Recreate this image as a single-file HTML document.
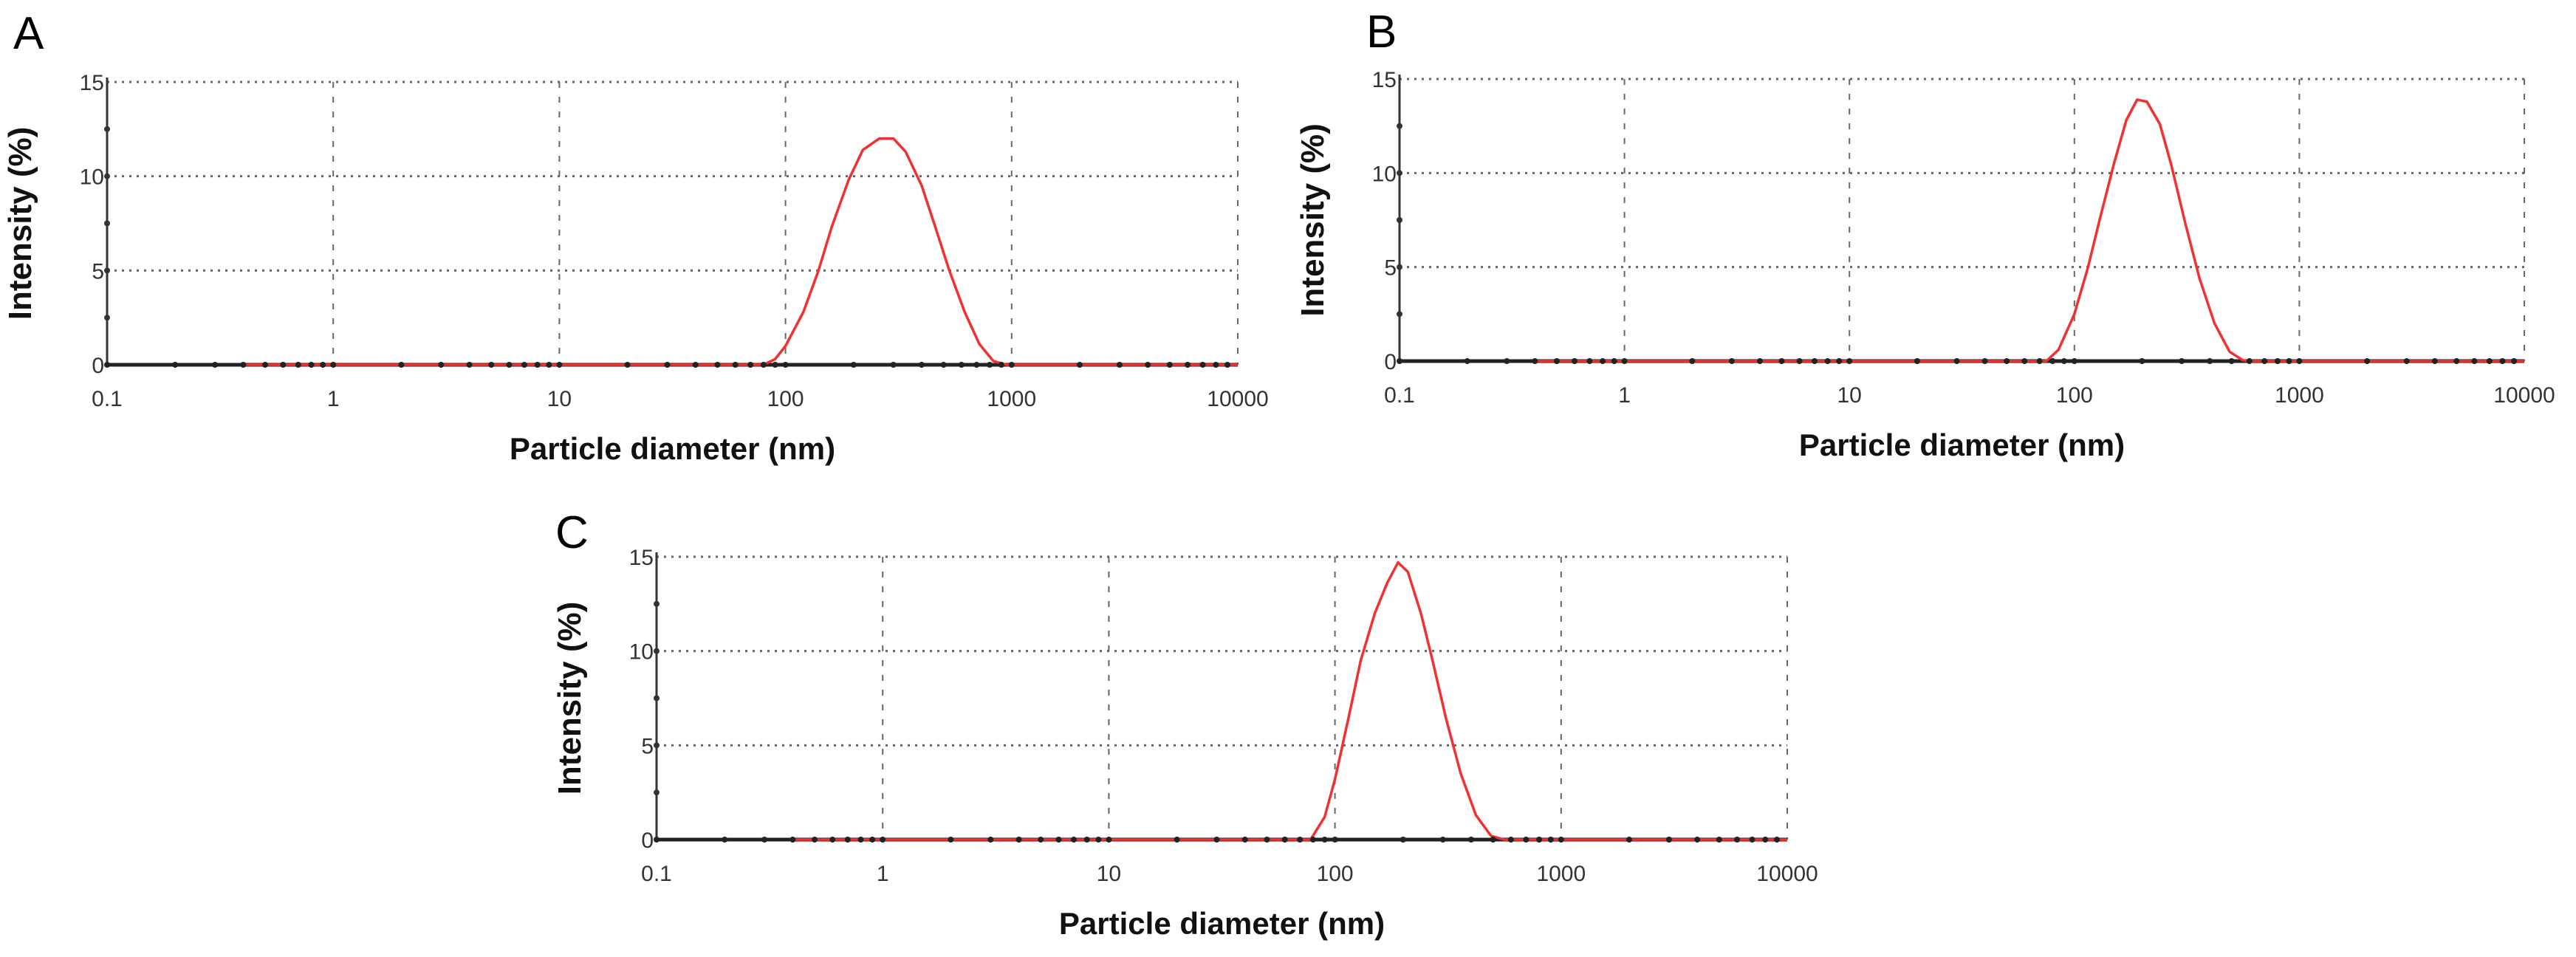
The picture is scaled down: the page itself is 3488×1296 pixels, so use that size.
<!DOCTYPE html>
<html><head><meta charset="utf-8"><style>
html,body{margin:0;padding:0;background:#fff;}
svg{display:block;font-family:"Liberation Sans",Arial,sans-serif;}
</style></head><body>
<svg id="fig" width="3488" height="1296" viewBox="0 0 3488 1296"></svg>
<script>
const xTickValues=[0.1,1,10,100,1000,10000];
const xTickLabels=["0.1","1","10","100","1000","10000"];
const yTickValues=[0,5,10,15];
const yTickLabels=["0","5","10","15"];
const sizesA=[0.4,1,10,80,90,100,120,140,160,190,220,260,300,340,400,460,530,620,720,830,950,10000];
const intensityA=[0,0,0,0,0.3,1,2.8,5,7.3,9.8,11.4,12,12,11.3,9.5,7.3,5,2.8,1.1,0.2,0,0];
const sizesB=[0.4,1,10,75,85,100,115,130,150,170,190,210,240,270,310,360,420,490,560,600,10000];
const intensityB=[0,0,0,0,0.6,2.5,5,7.6,10.5,12.8,13.9,13.8,12.6,10.4,7.4,4.4,2,0.5,0.05,0,0];
const sizesC=[0.4,1,10,78,90,100,115,130,150,170,190,210,240,270,310,360,420,490,560,10000];
const intensityC=[0,0,0,0,1.2,3.2,6.5,9.5,12,13.6,14.7,14.2,12,9.5,6.4,3.5,1.3,0.2,0,0];
const NS="http://www.w3.org/2000/svg";
const svg=document.getElementById('fig');
function mk(tag,attrs,parent){const e=document.createElementNS(NS,tag);for(const k in attrs)e.setAttribute(k,attrs[k]);(parent||svg).appendChild(e);return e;}
function panel(id,letter,lx,ly,L,R,T,B,sizes,vals){
  const g=mk('g',{});
  
  
  const xs=v=>L+(Math.log10(v)+1)/5*(R-L);
  const ys=v=>B-v/15*(B-T);
  const lt=mk('text',{x:lx,y:ly,'font-size':62,fill:'#000'},g);lt.textContent=letter;
  
  
  for(let i=1;i<yTickValues.length;i++){
    const y=ys(yTickValues[i]);
    const gl=mk('line',{x1:L,x2:R,y1:y,y2:y,stroke:'#666','stroke-width':3,'stroke-dasharray':'3,7'},g);
    
    
  }
  for(let i=1;i<xTickValues.length;i++){
    const x=xs(xTickValues[i]);
    const gl=mk('line',{x1:x,x2:x,y1:T,y2:B,stroke:'#666','stroke-width':2,'stroke-dasharray':'8,12'},g);
    
    
  }
  const ya=mk('line',{x1:L,x2:L,y1:T-6,y2:B,stroke:'#333','stroke-width':3},g);
  
  
  for(let v=2.5;v<15;v+=2.5){const d=mk('circle',{cx:L,cy:ys(v),r:4,fill:'#333'},g);}
  const xa=mk('line',{x1:L,x2:R,y1:B,y2:B,stroke:'#222','stroke-width':5},g);
  
  
  const pts=sizes.map((s,i)=>xs(s).toFixed(1)+','+ys(vals[i]).toFixed(1)).join(' ');
  const pl=mk('polyline',{points:pts,fill:'none',stroke:'#f23030','stroke-width':3.5,'stroke-linejoin':'round'},g);
  
  
  for(let d=0.1;d<10000;d*=10){for(let k=1;k<=9;k++){const x=xs(d*k);const c=mk('circle',{cx:x,cy:B,r:4,fill:'#222'},g);}}
  xTickValues.forEach((v,i)=>{const t=mk('text',{x:xs(v),y:B+56,'font-size':30,'text-anchor':'middle',fill:'#333'},g);t.textContent=xTickLabels[i];});
  yTickValues.forEach((v,i)=>{const t=mk('text',{x:L-4,y:ys(v)+11,'font-size':30,'text-anchor':'end',fill:'#333'},g);t.textContent=yTickLabels[i];});
  const xt=mk('text',{x:(L+R)/2,y:B+128,'font-size':42,'font-weight':'bold','text-anchor':'middle',fill:'#111'},g);xt.textContent='Particle diameter (nm)';
  
  
  const cy=(T+B)/2, tx=L-103;
  const yt=mk('text',{x:tx,y:cy,'font-size':44,'font-weight':'bold','text-anchor':'middle',fill:'#111',transform:'rotate(-90 '+tx+' '+cy+')'},g);yt.textContent='Intensity (%)';
  
  
}
panel('a','A',18,66,145,1676,111,494,sizesA,intensityA);
panel('b','B',1850,64,1895,3418,107,489,sizesB,intensityB);
panel('c','C',752,742,889,2420,754,1137,sizesC,intensityC);
</script>
</body></html>
